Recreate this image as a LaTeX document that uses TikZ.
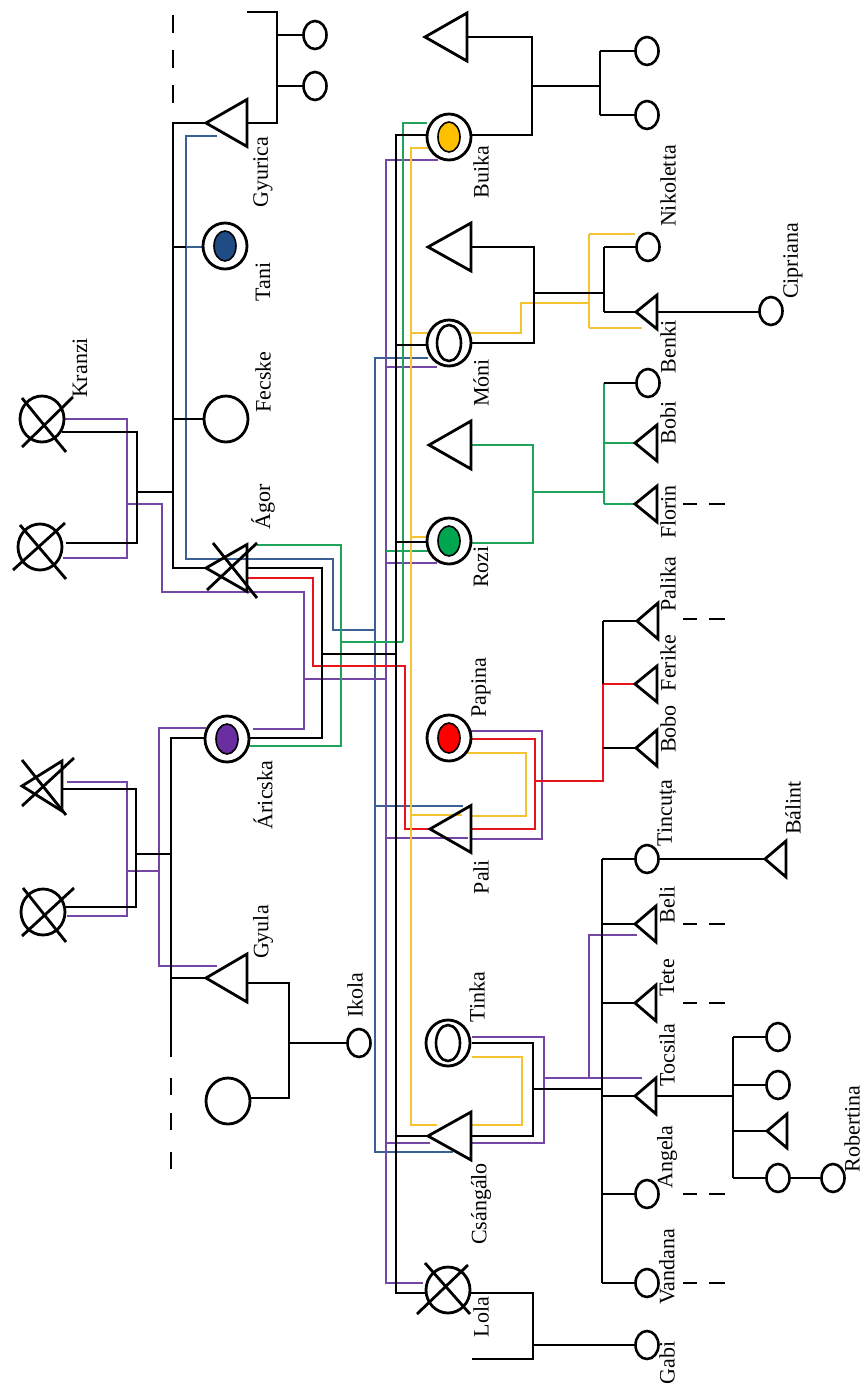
\documentclass[tikz,border=0pt]{standalone}
\usepackage{fontspec}
\setmainfont{Liberation Serif}
\usetikzlibrary{shapes.geometric}
\definecolor{cblue}{HTML}{3C5F94}
\definecolor{cpurple}{HTML}{7446A6}
\definecolor{cgreen}{HTML}{1FA55B}
\definecolor{cyellow}{HTML}{F5C230}
\definecolor{cred}{HTML}{E8131B}
\definecolor{ftani}{HTML}{1F4C85}
\definecolor{faric}{HTML}{6A2EA0}
\definecolor{fbuika}{HTML}{FFC000}
\definecolor{frozi}{HTML}{00A54F}
\definecolor{fpapina}{HTML}{FF0000}
\newcommand\trig[5]{\coordinate (#1) at (#2,#3); \draw[symline] (#1) -- (#4,{#3-#5}) -- (#4,{#3+#5}) -- cycle;}
\begin{document}
\begin{tikzpicture}[x=1pt,y=-1pt,
  bl/.style={black,line width=2.8pt},
  cl/.style={line width=2.4pt},
  symline/.style={draw=black,line width=2.8pt,line join=miter},
  sc/.style={ellipse,draw=black,line width=2.6pt,minimum width=23pt,minimum height=28pt,inner sep=0pt},
  bc/.style={ellipse,draw=black,line width=2.8pt,minimum width=44pt,minimum height=46pt,inner sep=0pt},
  ic/.style={ellipse,draw=black,line width=1.6pt,minimum width=22pt,minimum height=30pt,inner sep=0pt},
  io/.style={ellipse,draw=black,line width=2.6pt,minimum width=24pt,minimum height=36pt,inner sep=0pt},
  xl/.style={black,line width=2.8pt},
  lab/.style={rotate=90,inner sep=0pt,font=\fontsize{22}{24}\selectfont},
  dsh/.style={black,line width=2.8pt}]
\fill[white] (0,0) rectangle (866,1392);
\useasboundingbox (0,0) rectangle (866,1392);

% ---------------- coloured lines ----------------
% blue
\draw[cl,cblue] (217,136) -- (186,136) -- (186,559) -- (333,559) -- (333,630) -- (375,630);
\draw[cl,cblue] (186,247) -- (203,247);
\draw[cl,cblue] (428,358) -- (375,358) -- (375,1152) -- (453,1152);
\draw[cl,cblue] (375,806) -- (463,806);
% purple
\draw[cl,cpurple] (63,419) -- (127,419) -- (127,558) -- (63,558);
\draw[cl,cpurple] (127,504) -- (162,504) -- (162,592) -- (304,592) -- (304,729) -- (253,729);
\draw[cl,cpurple] (304,679) -- (386,679);
\draw[cl,cpurple] (67,782) -- (127,782) -- (127,916) -- (67,916);
\draw[cl,cpurple] (127,871) -- (159,871);
\draw[cl,cpurple] (206,728) -- (159,728) -- (159,966) -- (217,966);
\draw[cl,cpurple] (438,160) -- (386,160) -- (386,1283) -- (423,1283);
\draw[cl,cpurple] (386,367) -- (437,367);
\draw[cl,cpurple] (386,563) -- (437,563);
\draw[cl,cpurple] (386,838) -- (468,838);
\draw[cl,cpurple] (386,1143) -- (430,1143);
\draw[cl,cpurple] (471,731) -- (542,731) -- (542,839) -- (471,839);
\draw[cl,cpurple] (472,1143) -- (544,1143) -- (544,1037) -- (472,1037);
\draw[cl,cpurple] (544,1078) -- (642,1078);
\draw[cl,cpurple] (589,1078) -- (589,935) -- (637,935);
% green
\draw[cl,cgreen] (257,545) -- (341,545) -- (341,746) -- (249,746);
\draw[cl,cgreen] (341,642) -- (403,642);
\draw[cl,cgreen] (427,123) -- (403,123) -- (403,642);
\draw[cl,cgreen] (386,551) -- (428,551);
\draw[cl,cgreen] (471,543) -- (533,543) -- (533,445) -- (471,445);
\draw[cl,cgreen] (533,492) -- (604,492);
\draw[cl,cgreen] (604,383) -- (604,504);
\draw[cl,cgreen] (604,443) -- (635,443);
\draw[cl,cgreen] (604,504) -- (635,504);
% red
\draw[cl,cred] (247,578) -- (313,578) -- (313,666) -- (405,666) -- (405,829) -- (430,829);
\draw[cl,cred] (471,739) -- (535,739) -- (535,829) -- (471,829);
\draw[cl,cred] (535,781) -- (603,781) -- (603,684) -- (635,684);
% yellow
\draw[cl,cyellow] (428,148) -- (411,148) -- (411,1125) -- (437,1125);
\draw[cl,cyellow] (411,333) -- (428,333);
\draw[cl,cyellow] (411,537) -- (428,537);
\draw[cl,cyellow] (411,815) -- (462,815);
\draw[cl,cyellow] (470,333) -- (521,333) -- (521,303) -- (589,303);
\draw[cl,cyellow] (589,234) -- (589,328);
\draw[cl,cyellow] (589,234) -- (635,234);
\draw[cl,cyellow] (589,328) -- (642,328);
\draw[cl,cyellow] (467,753) -- (526,753) -- (526,816) -- (471,816);
\draw[cl,cyellow] (472,1057) -- (522,1057) -- (522,1125) -- (472,1125);

% ---------------- black lines ----------------
\draw[bl] (247,12) -- (277,12) -- (277,123) -- (247,123);
\draw[bl] (277,35) -- (304,35);
\draw[bl] (277,86) -- (304,86);
\foreach \yy in {15,50,85} \draw[dsh] (173,\yy) -- (173,\yy+18);
\draw[bl] (206,123) -- (173,123) -- (173,568) -- (206,568);
\draw[bl] (173,247) -- (186,247);
\draw[bl] (173,419) -- (204,419);
\draw[bl] (137,492) -- (173,492);
\draw[bl] (62,432) -- (137,432) -- (137,543) -- (66,543);
\draw[bl] (62,789) -- (136,789) -- (136,907) -- (66,907);
\draw[bl] (136,854) -- (171,854);
\draw[bl] (206,738) -- (171,738) -- (171,1057);
\draw[bl] (171,978) -- (206,978);
\foreach \yy in {1078,1113,1152} \draw[dsh] (171,\yy) -- (171,\yy+17);
\draw[bl] (247,983) -- (289,983) -- (289,1098) -- (250,1098);
\draw[bl] (289,1043) -- (348,1043);
\draw[bl] (247,568) -- (322,568) -- (322,738) -- (248,738);
\draw[bl] (322,654) -- (396,654);
\draw[bl] (428,135) -- (396,135) -- (396,1293) -- (427,1293);
\draw[bl] (396,345) -- (427,345);
\draw[bl] (396,542) -- (427,542);
\draw[bl] (396,1136) -- (428,1136);
% Buika family
\draw[bl] (471,135) -- (532,135) -- (532,37) -- (467,37);
\draw[bl] (532,86) -- (600,86);
\draw[bl] (600,51) -- (600,115);
\draw[bl] (600,51) -- (636,51);
\draw[bl] (600,115) -- (636,115);
% Moni family
\draw[bl] (471,343) -- (534,343) -- (534,247) -- (471,247);
\draw[bl] (534,293) -- (604,293);
\draw[bl] (604,247) -- (604,312);
\draw[bl] (604,247) -- (637,247);
\draw[bl] (604,312) -- (636,312);
\draw[bl] (657,312) -- (760,312);
% Rozi family
\draw[bl] (604,383) -- (637,383);
% Pali children
\draw[bl] (603,621) -- (603,684);
\draw[bl] (603,621) -- (637,621);
\draw[bl] (603,748) -- (636,748);
% Tinka / Csangalo family
\draw[bl] (472,1043) -- (533,1043) -- (533,1136) -- (472,1136);
\draw[bl] (533,1089) -- (602,1089);
\draw[bl] (602,859) -- (602,1283);
\foreach \yy in {859,924,1003,1096,1194,1283} \draw[bl] (602,\yy) -- (636,\yy);
\draw[bl] (658,859) -- (765,859);
\draw[bl] (656,1096) -- (733,1096);
\draw[bl] (733,1037) -- (733,1178);
\foreach \yy in {1037,1085,1131,1178} \draw[bl] (733,\yy) -- (767,\yy);
\draw[bl] (789,1178) -- (822,1178);
% Lola family
\draw[bl] (471,1293) -- (533,1293) -- (533,1359) -- (472,1359);
\draw[bl] (533,1345) -- (636,1345);
% descendant dashes
\foreach \yy in {504,619,924,1003,1194,1283} {\draw[dsh] (683,\yy) -- (697,\yy); \draw[dsh] (709,\yy) -- (725,\yy);}

% ---------------- symbols ----------------
% small circles
\node[sc] (g1) at (315,35) {};
\node[sc] (g2) at (315,86) {};
\node[sc] (b1) at (647,51) {};
\node[sc] (b2) at (647,115) {};
\node[sc] (nikoletta) at (648,247) {};
\node[sc] (cipriana) at (771,311) {};
\node[sc] (rc1) at (648,383) {};
\node[sc] (tincuta) at (647,859) {};
\node[sc] (t1) at (778,1037) {};
\node[sc] (t2) at (778,1085) {};
\node[sc] (t4) at (778,1178) {};
\node[sc] (robertina) at (833,1178) {};
\node[sc] (angela) at (647,1194) {};
\node[sc] (vandana) at (647,1283) {};
\node[sc] (gabi) at (647,1345) {};
\node[sc] (ikola) at (359,1043) {};
% big circles
\node[bc] (fecske) at (226,419) {};
\node[bc] (gymate) at (228,1101) {};
% crossed circles
\node[bc] (kranzi) at (42,419) {};
\draw[xl] (22,398) -- (66,452); \draw[xl] (22,447) -- (73,397);
\node[bc] (kmate) at (40,547) {};
\draw[xl] (13,570) -- (65,523); \draw[xl] (20,525) -- (66,579);
\node[bc] (amother) at (43,912) {};
\draw[xl] (23,888) -- (66,942); \draw[xl] (22,936) -- (74,888);
\node[bc] (lola) at (448,1290) {};
\draw[xl] (425,1263) -- (470,1314); \draw[xl] (417,1314) -- (468,1265);
% double circles
\node[bc] (tani) at (225,246) {}; \node[ic,fill=ftani] at (tani) {};
\node[bc] (aricska) at (227,739) {}; \node[ic,fill=faric] at (aricska) {};
\node[bc] (buika) at (449,137) {}; \node[ic,fill=fbuika] at (buika) {};
\node[bc] (moni) at (449,343) {}; \node[io] at (moni) {};
\node[bc] (rozi) at (449,541) {}; \node[ic,fill=frozi] at (rozi) {};
\node[bc] (papina) at (449,738) {}; \node[ic,fill=fpapina] at (papina) {};
\node[bc] (tinka) at (448,1043) {}; \node[io] at (tinka) {};
% big triangles
\trig{gyurica}{206}{123}{247}{23.5}
\trig{agor}{206}{568}{247}{23.5}
\draw[xl] (207,590) -- (257,543); \draw[xl] (213,543) -- (257,598);
\trig{gyula}{206}{978}{247}{24}
\trig{bmate}{425}{37}{467}{24}
\trig{mmate}{428}{247}{471}{24}
\trig{rmate}{429}{445}{471}{24}
\trig{pali}{430}{829}{471}{23.5}
\trig{csangalo}{428}{1136}{471}{24}
\trig{afather}{22}{786}{62}{25}
\draw[xl] (22,760) -- (66,815); \draw[xl] (22,806) -- (74,758);
% small triangles
\trig{benki}{636}{312}{657}{17}
\trig{bobi}{635}{443}{657}{18}
\trig{florin}{635}{504}{657}{18}
\trig{palika}{637}{621}{658}{18}
\trig{ferike}{635}{684}{657}{18}
\trig{bobo}{636}{748}{657}{18}
\trig{beli}{635}{924}{656}{18}
\trig{tete}{635}{1003}{656}{18}
\trig{tocsila}{635}{1096}{656}{18}
\trig{balint}{765}{859}{786}{18}
\trig{t3}{767}{1131}{787}{17}

% ---------------- labels ----------------
\node[lab] (lkranzi) at (80,368) {Kranzi};
\node[lab] (lgyurica) at (263,172) {Gyurica};
\node[lab] (ltani) at (263,282) {Tani};
\node[lab] (lfecske) at (263,382) {Fecske};
\node[lab] (lagor) at (263,507) {Ágor};
\node[lab] (laricska) at (263,795) {Áricska};
\node[lab] (lgyula) at (263,932) {Gyula};
\node[lab] (likola) at (355,995) {Ikola};
\node[lab] (lbuika) at (481,172) {Buika};
\node[lab] (lmoni) at (481,383) {Móni};
\node[lab] (lrozi) at (481,567) {Rozi};
\node[lab] (lpapina) at (481,688) {Papina};
\node[lab] (lpali) at (481,877) {Pali};
\node[lab] (ltinka) at (477,997) {Tinka};
\node[lab] (lcsangalo) at (481,1204) {Csángálo};
\node[lab] (llola) at (481,1317) {Lola};
\node[lab] (lnikoletta) at (668,186) {Nikoletta};
\node[lab] (lbenki) at (668,347) {Benki};
\node[lab] (lbobi) at (668,423) {Bobi};
\node[lab] (lflorin) at (668,512) {Florin};
\node[lab] (lpalika) at (668,584) {Palika};
\node[lab] (lferike) at (668,663) {Ferike};
\node[lab] (lbobo) at (668,729) {Bobo};
\node[lab] (ltincuta) at (667,813) {Tincuța};
\node[lab] (lbeli) at (667,905) {Beli};
\node[lab] (ltete) at (667,978) {Tete};
\node[lab] (ltocsila) at (667,1055) {Tocsila};
\node[lab] (langela) at (667,1157) {Angela};
\node[lab] (lvandana) at (667,1267) {Vandana};
\node[lab] (lgabi) at (667,1363) {Gabi};
\node[lab] (lcipriana) at (793,261) {Cipriana};
\node[lab] (lbalint) at (793,808) {Bálint};
\node[lab] (lrobertina) at (852,1129) {Robertina};
\end{tikzpicture}
\end{document}
